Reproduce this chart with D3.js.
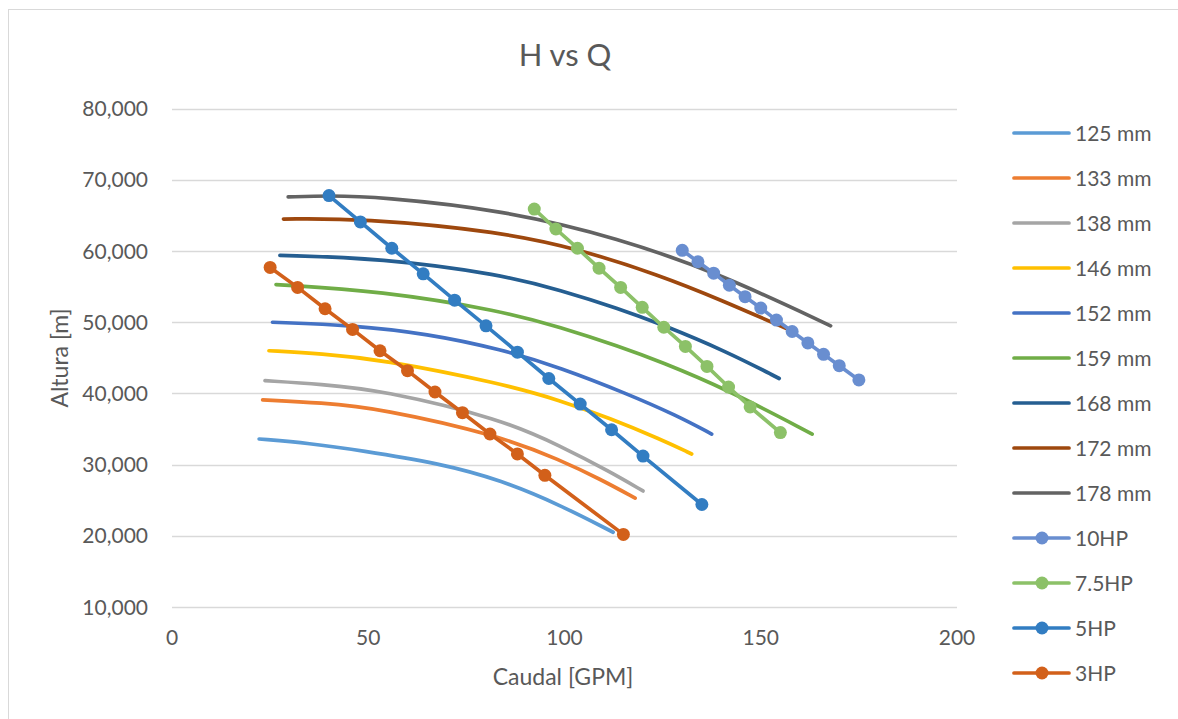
<!DOCTYPE html>
<html>
<head>
<meta charset="utf-8">
<script src="https://cdn.jsdelivr.net/npm/d3@7"></script>
<style>
  body { margin: 0; background: #fff; }
  svg { display: block; font-family: Lato, "Open Sans", sans-serif; }
  .tick-label { fill: #595959; font-size: 21px; }
</style>
</head>
<body>
<div id="chart"></div>
<script>
"use strict";

// Pump curves (impeller diameter), Q [GPM] vs H [m]
var curve125 = [[22.2, 33.6], [35, 33.0], [48, 32.0], [68, 30.2], [84, 27.8], [99, 24.3], [112.4, 20.5]];
var curve133 = [[23.1, 39.1], [38, 38.7], [53, 37.9], [84, 34.0], [99, 30.6], [109, 28.0], [118, 25.3]];
var curve138 = [[23.7, 41.8], [38, 41.3], [53, 40.5], [84, 36.4], [99, 32.6], [111.6, 29.0], [120, 26.3]];
var curve146 = [[24.7, 46.0], [38, 45.6], [53, 44.8], [84, 41.4], [99, 39.0], [111.6, 36.5], [124.3, 33.6], [132.4, 31.5]];
var curve152 = [[25.6, 50.0], [46, 49.6], [65, 48.4], [84, 46.2], [99, 43.6], [115.8, 40.0], [128.6, 36.9], [137.5, 34.3]];
var curve159 = [[26.5, 55.3], [53, 54.4], [84, 51.6], [99, 49.3], [114, 46.6], [124.3, 44.5], [141.3, 40.6], [163.1, 34.3]];
var curve168 = [[27.5, 59.4], [53, 59.0], [84, 56.7], [99, 54.5], [114, 51.9], [124.3, 49.8], [141.3, 45.9], [154.7, 42.1]];
var curve172 = [[28.4, 64.5], [48, 64.6], [84, 62.7], [103.5, 60.3], [124.3, 56.6], [139.6, 53.2], [157, 49.0]];
var curve178 = [[29.6, 67.6], [40, 67.8], [53, 67.6], [84, 65.8], [114, 61.8], [139.6, 56.8], [167.8, 49.5]];

// Motor lines (with markers)
var q10HP = [130, 134, 138, 142, 146, 150, 154, 158, 162, 166, 170, 175];
var h10HP = [60.1, 58.5, 56.9, 55.2, 53.6, 52.0, 50.3, 48.7, 47.1, 45.5, 43.9, 41.9];
var q75HP = [92.3, 97.8, 103.3, 108.8, 114.3, 119.8, 125.3, 130.8, 136.3, 141.8, 147.3, 155];
var h75HP = [65.9, 63.1, 60.4, 57.6, 54.9, 52.1, 49.3, 46.6, 43.8, 40.9, 38.1, 34.5];
var q5HP = [40, 48, 56, 64, 72, 80, 88, 96, 104, 112, 120, 135];
var h5HP = [67.8, 64.1, 60.4, 56.8, 53.1, 49.5, 45.8, 42.1, 38.5, 34.9, 31.2, 24.4];
var q3HP = [25, 32, 39, 46, 53, 60, 67, 74, 81, 88, 95, 115];
var h3HP = [57.7, 54.9, 51.9, 49.0, 46.0, 43.2, 40.2, 37.3, 34.3, 31.5, 28.5, 20.2];

var xTicks = [0, 50, 100, 150, 200];
var yTicks = [10, 20, 30, 40, 50, 60, 70, 80];

var series = [
  { name: "125 mm", color: "#5B9BD5", pts: curve125 },
  { name: "133 mm", color: "#ED7D31", pts: curve133 },
  { name: "138 mm", color: "#A5A5A5", pts: curve138 },
  { name: "146 mm", color: "#FFC000", pts: curve146 },
  { name: "152 mm", color: "#4472C4", pts: curve152 },
  { name: "159 mm", color: "#70AD47", pts: curve159 },
  { name: "168 mm", color: "#255E91", pts: curve168 },
  { name: "172 mm", color: "#9E480E", pts: curve172 },
  { name: "178 mm", color: "#636363", pts: curve178 },
  { name: "10HP", color: "#698ED0", pts: d3.zip(q10HP, h10HP), markers: true },
  { name: "7.5HP", color: "#8CC168", pts: d3.zip(q75HP, h75HP), markers: true },
  { name: "5HP", color: "#327DC2", pts: d3.zip(q5HP, h5HP), markers: true },
  { name: "3HP", color: "#D2601A", pts: d3.zip(q3HP, h3HP), markers: true }
];

var width = 1178, height = 719;

var svg = d3.select("#chart").append("svg")
  .attr("width", width)
  .attr("height", height);

// chart area border
svg.append("rect")
  .attr("x", 8.5).attr("y", 9.5)
  .attr("width", width + 20).attr("height", height + 20)
  .attr("fill", "#fff")
  .attr("stroke", "#D9D9D9");

var x = d3.scaleLinear().domain([0, 200]).range([172, 957]);
var y = d3.scaleLinear().domain([10, 80]).range([607, 108.7]);

var fmt = d3.formatLocale({ decimal: ",", thousands: ".", grouping: [3], currency: ["", ""] }).format(".3f");

// gridlines
svg.append("g")
  .selectAll("line")
  .data(yTicks)
.enter().append("line")
  .attr("x1", x(0)).attr("x2", x(200))
  .attr("y1", function(d) { return Math.round(y(d)) + 0.5; })
  .attr("y2", function(d) { return Math.round(y(d)) + 0.5; })
  .attr("stroke", "#D9D9D9")
  .attr("stroke-width", 1.3);

svg.append("g")
  .selectAll("text")
  .data(yTicks)
.enter().append("text")
  .attr("class", "tick-label")
  .attr("x", 148)
  .attr("y", function(d) { return y(d); })
  .attr("dy", "0.36em")
  .attr("text-anchor", "end")
  .text(fmt);

svg.append("g")
  .selectAll("text")
  .data(xTicks)
.enter().append("text")
  .attr("class", "tick-label")
  .attr("x", function(d) { return x(d); })
  .attr("y", 645)
  .attr("text-anchor", "middle")
  .text(function(d) { return d; });

// titles
svg.append("text")
  .attr("x", 565).attr("y", 66)
  .attr("text-anchor", "middle")
  .attr("fill", "#595959")
  .attr("font-size", 31)
  .text("H vs Q");

svg.append("text")
  .attr("x", 563).attr("y", 685)
  .attr("text-anchor", "middle")
  .attr("fill", "#595959")
  .attr("font-size", 23)
  .text("Caudal [GPM]");

svg.append("text")
  .attr("transform", "translate(68,358) rotate(-90)")
  .attr("text-anchor", "middle")
  .attr("fill", "#595959")
  .attr("font-size", 23)
  .text("Altura [m]");

// series
var line = d3.line()
  .x(function(d) { return x(d[0]); })
  .y(function(d) { return y(d[1]); });

var plot = svg.append("g");

series.forEach(function(s) {
  // smoothed lines for the impeller curves, straight segments for motors
  plot.append("path")
    .datum(s.pts)
    .attr("d", line.curve(s.markers ? d3.curveLinear : d3.curveBasis))
    .attr("fill", "none")
    .attr("stroke", s.color)
    .attr("stroke-width", 3.7)
    .attr("stroke-linecap", "round")
    .attr("stroke-linejoin", "round");

  if (s.markers) {
    plot.append("g")
      .selectAll("circle")
      .data(s.pts)
    .enter().append("circle")
      .attr("cx", function(d) { return x(d[0]); })
      .attr("cy", function(d) { return y(d[1]); })
      .attr("r", 6.5)
      .attr("fill", s.color);
  }
});

// legend
var legend = svg.append("g")
  .selectAll("g")
  .data(series)
.enter().append("g")
  .attr("transform", function(d, i) { return "translate(1014," + (133 + i * 45) + ")"; });

legend.append("line")
  .attr("x1", 0).attr("x2", 55)
  .attr("stroke", function(d) { return d.color; })
  .attr("stroke-width", 3.7)
  .attr("stroke-linecap", "round");

legend.filter(function(d) { return d.markers; })
  .append("circle")
  .attr("cx", 28).attr("r", 6.5)
  .attr("fill", function(d) { return d.color; });

legend.append("text")
  .attr("class", "tick-label")
  .attr("x", 61)
  .attr("dy", "0.36em")
  .text(function(d) { return d.name; });
</script>
</body>
</html>
